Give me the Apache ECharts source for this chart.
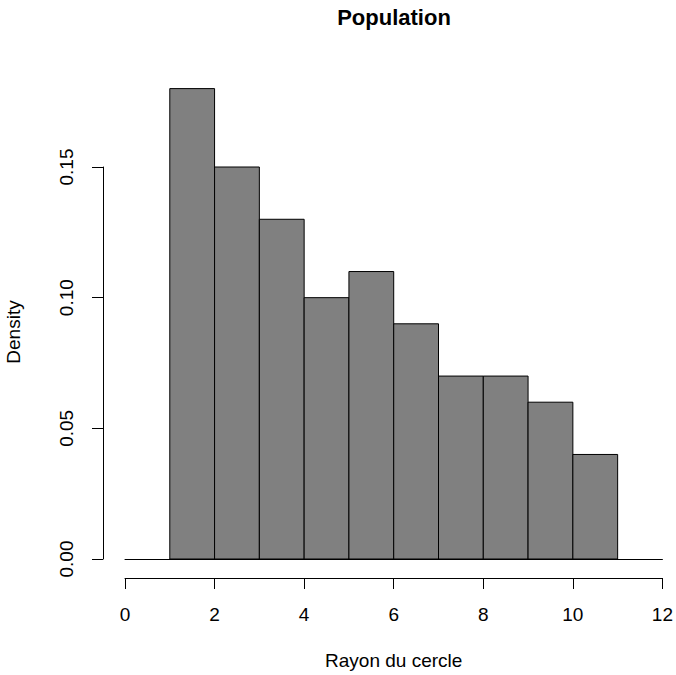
<!DOCTYPE html>
<html>
<head>
<meta charset="utf-8">
<script src="https://cdn.jsdelivr.net/npm/echarts@6/dist/echarts.min.js"></script>
<style>
  html, body { margin: 0; padding: 0; background: #fff; }
  #chart { width: 676px; height: 675px; }
</style>
</head>
<body>
<div id="chart"></div>
<script>
// histogram bins
const binStart = [1, 2, 3, 4, 5, 6, 7, 8, 9, 10]
const binEnd = [2, 3, 4, 5, 6, 7, 8, 9, 10, 11]
const density = [0.18, 0.15, 0.13, 0.10, 0.11, 0.09, 0.07, 0.07, 0.06, 0.04]

// tick labels
const xTickLabels = ['0', '2', '4', '6', '8', '10', '12']
const yTickLabels = ['0.00', '0.05', '0.10', '0.15']

const font = 'Liberation Sans, Arial, sans-serif'

const chart = echarts.init(document.getElementById('chart'), null, { renderer: 'svg' })

const option = {
  backgroundColor: '#fff',
  animation: false,
  title: {
    text: 'Population',
    left: 394,
    top: 6,
    padding: 0,
    textAlign: 'center',
    textStyle: { fontFamily: font, fontSize: 22, fontWeight: 'bold', color: '#000' }
  },
  graphic: [
    {
      type: 'text',
      x: 13,
      y: 332,
      rotation: Math.PI / 2,
      style: {
        text: 'Density',
        fontFamily: font,
        fontSize: 19,
        fill: '#000',
        align: 'center',
        verticalAlign: 'middle'
      }
    }
  ],
  grid: { left: 125, right: 12, top: 167, bottom: 116 },
  xAxis: [
    {
      type: 'value',
      min: 0,
      max: 12,
      interval: 2,
      position: 'bottom',
      offset: 19,
      axisLine: { show: true, onZero: false, lineStyle: { color: '#000', width: 1 } },
      axisTick: { show: true, length: 11, lineStyle: { color: '#000' } },
      axisLabel: {
        margin: 27,
        fontFamily: font,
        fontSize: 19,
        color: '#000',
        formatter: (v, i) => xTickLabels[i]
      },
      splitLine: { show: false },
      name: 'Rayon du cercle',
      nameLocation: 'middle',
      nameGap: 73,
      nameTextStyle: { fontFamily: font, fontSize: 19, color: '#000' }
    },
    {
      // baseline at density 0
      type: 'value',
      min: 0,
      max: 12,
      position: 'bottom',
      offset: 0,
      axisLine: { show: true, onZero: false, lineStyle: { color: '#000', width: 1 } },
      axisTick: { show: false },
      axisLabel: { show: false },
      splitLine: { show: false }
    }
  ],
  yAxis: {
    type: 'value',
    min: 0,
    max: 0.15,
    interval: 0.05,
    offset: 22,
    axisLine: { show: true, onZero: false, lineStyle: { color: '#000', width: 1 } },
    axisTick: { show: true, length: 11, lineStyle: { color: '#000' } },
    axisLabel: {
      rotate: 90,
      margin: 27,
      fontFamily: font,
      fontSize: 19,
      color: '#000',
      formatter: (v, i) => yTickLabels[i]
    },
    splitLine: { show: false }
  },
  series: [
    {
      type: 'custom',
      xAxisIndex: 0,
      clip: false,
      data: binStart.map((s, i) => [s, binEnd[i], density[i]]),
      renderItem: function (params, api) {
        const topLeft = api.coord([api.value(0), api.value(2)])
        const bottomRight = api.coord([api.value(1), 0])
        return {
          type: 'rect',
          shape: {
            x: topLeft[0],
            y: topLeft[1],
            width: bottomRight[0] - topLeft[0],
            height: bottomRight[1] - topLeft[1]
          },
          style: { fill: '#808080', stroke: '#000', lineWidth: 1 }
        }
      }
    }
  ]
}

chart.setOption(option)
</script>
</body>
</html>
